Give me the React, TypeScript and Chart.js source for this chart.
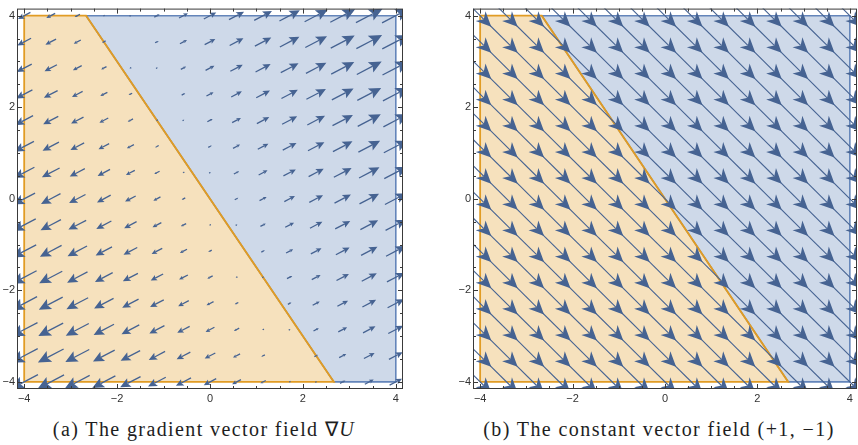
import React, { useEffect, useRef } from 'react';
import { Chart, registerables } from 'chart.js';

Chart.register(...registerables);

// ---------- data ----------
const axisMin = -4.155;
const axisMax = 4.155;
const majorTicks = [-4, -2, 0, 2, 4];
const minorTicks = [-4, -3.5, -3, -2.5, -2, -1.5, -1, -0.5, 0, 0.5, 1, 1.5, 2, 2.5, 3, 3.5, 4];

// sample points of the vector fields (15 x 15 grid)
const gridX = [-4, -3.4286, -2.8571, -2.2857, -1.7143, -1.1429, -0.5714, 0, 0.5714, 1.1429, 1.7143, 2.2857, 2.8571, 3.4286, 4];
const gridY = [-4, -3.4286, -2.8571, -2.2857, -1.7143, -1.1429, -0.5714, 0, 0.5714, 1.1429, 1.7143, 2.2857, 2.8571, 3.4286, 4];

// regions (polygon vertices)
const orangeRegionX = [-4, -4, -2.667, 2.667, -4];
const orangeRegionY = [-4, 4, 4, -4, -4];
const blueRegionX = [-2.667, 4, 4, 2.667, -2.667];
const blueRegionY = [4, 4, -4, -4, 4];

// (a) gradient field: direction of the arrows and drawn arrow length (axis units)
// indexed by the number of grid steps away from the zero line 2x + y = 0
const gradientDirection = [1.88, 1];
const gradientArrowLength = [0, 0.043, 0.087, 0.13, 0.173, 0.216, 0.26, 0.303, 0.335, 0.368, 0.4, 0.433, 0.476, 0.498, 0.53, 0.563, 0.584, 0.606, 0.628, 0.649, 0.66, 0.671];

// (b) constant field (+1, -1): arrow extent behind / ahead of each sample point (axis units per axis)
const constantField = [1, -1];
const constantArrowBack = 0.45;
const constantArrowAhead = 0.24;

const captions = ['(a) The gradient vector field \u2207', '(b) The constant vector field (+1, \u22121)'];

// ---------- styles ----------
const ARROW_COLOR = 'rgb(70,99,146)';
const FRAME_COLOR = '#3a3a3a';
const TICK_FONT = { family: '"Liberation Sans", Arial, sans-serif', size: 11 };

function drawArrow(
  ctx: CanvasRenderingContext2D,
  x0: number, y0: number, x1: number, y1: number,
  hl: number, hw: number, notch: number, lw: number
) {
  const dx = x1 - x0, dy = y1 - y0;
  const L = Math.hypot(dx, dy);
  if (L < 0.8) return;
  const ux = dx / L, uy = dy / L;
  const nx = -uy, ny = ux;
  const bx = x1 - ux * hl, by = y1 - uy * hl;
  const mx = x1 - ux * hl * (1 - notch), my = y1 - uy * hl * (1 - notch);
  ctx.lineWidth = lw;
  ctx.beginPath();
  ctx.moveTo(x0, y0);
  ctx.lineTo(mx, my);
  ctx.stroke();
  ctx.beginPath();
  ctx.moveTo(x1, y1);
  ctx.lineTo(bx + nx * hw, by + ny * hw);
  ctx.lineTo(mx, my);
  ctx.lineTo(bx - nx * hw, by - ny * hw);
  ctx.closePath();
  ctx.fill();
}

const fieldPlugin = {
  id: 'vectorField',
  afterDatasetsDraw(chart: any, _args: any, opts: any) {
    const { ctx, chartArea } = chart;
    const xs = chart.scales.x, ys = chart.scales.y;
    ctx.save();
    ctx.beginPath();
    ctx.rect(chartArea.left, chartArea.top, chartArea.right - chartArea.left, chartArea.bottom - chartArea.top);
    ctx.clip();
    ctx.fillStyle = ARROW_COLOR;
    ctx.strokeStyle = ARROW_COLOR;
    ctx.lineCap = 'butt';
    if (opts.kind === 'gradient') {
      const n = Math.hypot(gradientDirection[0], gradientDirection[1]);
      const ux = gradientDirection[0] / n, uy = gradientDirection[1] / n;
      const zero = (gridX.length - 1) + (gridY.length - 1) / 2;
      gridX.forEach((gx, i) => {
        gridY.forEach((gy, j) => {
          const band = 2 * i + j - zero;
          const len = gradientArrowLength[Math.abs(band)] * Math.sign(band);
          if (!len) return;
          const hx = (ux * len) / 2, hy = (uy * len) / 2;
          const p0x = xs.getPixelForValue(gx - hx), p0y = ys.getPixelForValue(gy - hy);
          const p1x = xs.getPixelForValue(gx + hx), p1y = ys.getPixelForValue(gy + hy);
          const L = Math.hypot(p1x - p0x, p1y - p0y);
          drawArrow(ctx, p0x, p0y, p1x, p1y, 0.45 * L, 0.21 * L, 0.2, 1.3);
        });
      });
    } else {
      gridX.forEach((gx) => {
        gridY.forEach((gy) => {
          const p0x = xs.getPixelForValue(gx - constantField[0] * constantArrowBack);
          const p0y = ys.getPixelForValue(gy - constantField[1] * constantArrowBack);
          const p1x = xs.getPixelForValue(gx + constantField[0] * constantArrowAhead);
          const p1y = ys.getPixelForValue(gy + constantField[1] * constantArrowAhead);
          drawArrow(ctx, p0x, p0y, p1x, p1y, 15, 7, 0.3, 1.1);
        });
      });
    }
    ctx.restore();
  },
  afterDraw(chart: any) {
    const { ctx, chartArea } = chart;
    const xs = chart.scales.x, ys = chart.scales.y;
    const { left, right, top, bottom } = chartArea;
    ctx.save();
    ctx.strokeStyle = FRAME_COLOR;
    ctx.lineWidth = 1;
    ctx.strokeRect(left + 0.5, top + 0.5, right - left - 1, bottom - top - 1);
    ctx.beginPath();
    minorTicks.forEach((v) => {
      const len = majorTicks.includes(v) ? 5 : 3;
      const px = Math.round(xs.getPixelForValue(v)) + 0.5;
      ctx.moveTo(px, bottom); ctx.lineTo(px, bottom - len);
      ctx.moveTo(px, top); ctx.lineTo(px, top + len);
      const py = Math.round(ys.getPixelForValue(v)) + 0.5;
      ctx.moveTo(left, py); ctx.lineTo(left + len, py);
      ctx.moveTo(right, py); ctx.lineTo(right - len, py);
    });
    ctx.stroke();
    ctx.restore();
  },
};

const tickLabel = (v: number | string) => {
  const n = Number(v);
  return n < 0 ? '\u2212' + Math.abs(n) : String(n);
};

function makeConfig(kind: 'gradient' | 'constant', padLeft: number, padRight: number): any {
  const pts = (xs: number[], ys: number[]) => xs.map((x, i) => ({ x, y: ys[i] }));
  const scaleBase = {
    type: 'linear',
    min: axisMin,
    max: axisMax,
    grid: { display: false, drawTicks: false },
    border: { display: false },
    afterBuildTicks: (s: any) => {
      s.ticks = majorTicks.map((value) => ({ value }));
    },
  };
  return {
    type: 'scatter',
    data: {
      datasets: [
        {
          label: 'region A',
          data: pts(orangeRegionX, orangeRegionY),
          showLine: true,
          fill: 'shape',
          backgroundColor: 'rgba(225,156,36,0.3)',
          borderColor: '#E19C24',
          borderWidth: 1.8,
          borderJoinStyle: 'miter',
          pointRadius: 0,
          tension: 0,
          order: 0,
        },
        {
          label: 'region B',
          data: pts(blueRegionX, blueRegionY),
          showLine: true,
          fill: 'shape',
          backgroundColor: 'rgba(94,129,181,0.3)',
          borderColor: '#6485BA',
          borderWidth: 1.6,
          borderJoinStyle: 'miter',
          pointRadius: 0,
          tension: 0,
          order: 1,
        },
      ],
    },
    options: {
      animation: false,
      responsive: false,
      events: [],
      layout: { padding: { left: padLeft, right: padRight, top: 5, bottom: 0 }, autoPadding: false },
      plugins: {
        legend: { display: false },
        tooltip: { enabled: false },
        vectorField: { kind },
      },
      scales: {
        x: {
          ...scaleBase,
          position: 'bottom',
          ticks: { padding: 3, font: TICK_FONT, color: '#333', callback: tickLabel, maxRotation: 0, autoSkip: false },
          afterFit: (s: any) => { s.height = 19; },
        },
        y: {
          ...scaleBase,
          position: 'left',
          ticks: { padding: 2, font: TICK_FONT, color: '#333', callback: tickLabel, autoSkip: false },
          afterFit: (s: any) => { s.width = 17; },
        },
      },
    },
    plugins: [fieldPlugin],
  };
}

function Panel({ kind, left, padLeft, padRight }: { kind: 'gradient' | 'constant'; left: number; padLeft: number; padRight: number }) {
  const ref = useRef<HTMLCanvasElement>(null);
  useEffect(() => {
    const chart = new Chart(ref.current as HTMLCanvasElement, makeConfig(kind, padLeft, padRight));
    return () => chart.destroy();
  }, [kind, padLeft, padRight]);
  return (
    <canvas
      ref={ref}
      width={429}
      height={408}
      style={{ position: 'absolute', left, top: 0, width: 429, height: 408 }}
    />
  );
}

const captionStyle: React.CSSProperties = {
  position: 'absolute',
  top: 417,
  fontFamily: '"Liberation Serif", "Times New Roman", serif',
  fontSize: 20,
  lineHeight: '24px',
  color: '#1e1e1e',
  textAlign: 'center',
  whiteSpace: 'nowrap',
  letterSpacing: '1.4px',
};

export default function App() {
  return (
    <div style={{ position: 'absolute', left: 0, top: 0, width: 858, height: 445, background: '#fff', overflow: 'hidden' }}>
      <Panel kind="gradient" left={0} padLeft={0} padRight={26} />
      <Panel kind="constant" left={429} padLeft={27} padRight={1} />
      <div style={{ ...captionStyle, left: 0, width: 408 }}>
        {captions[0]}<i>U</i>
      </div>
      <div style={{ ...captionStyle, left: 459, width: 400 }}>{captions[1]}</div>
    </div>
  );
}
